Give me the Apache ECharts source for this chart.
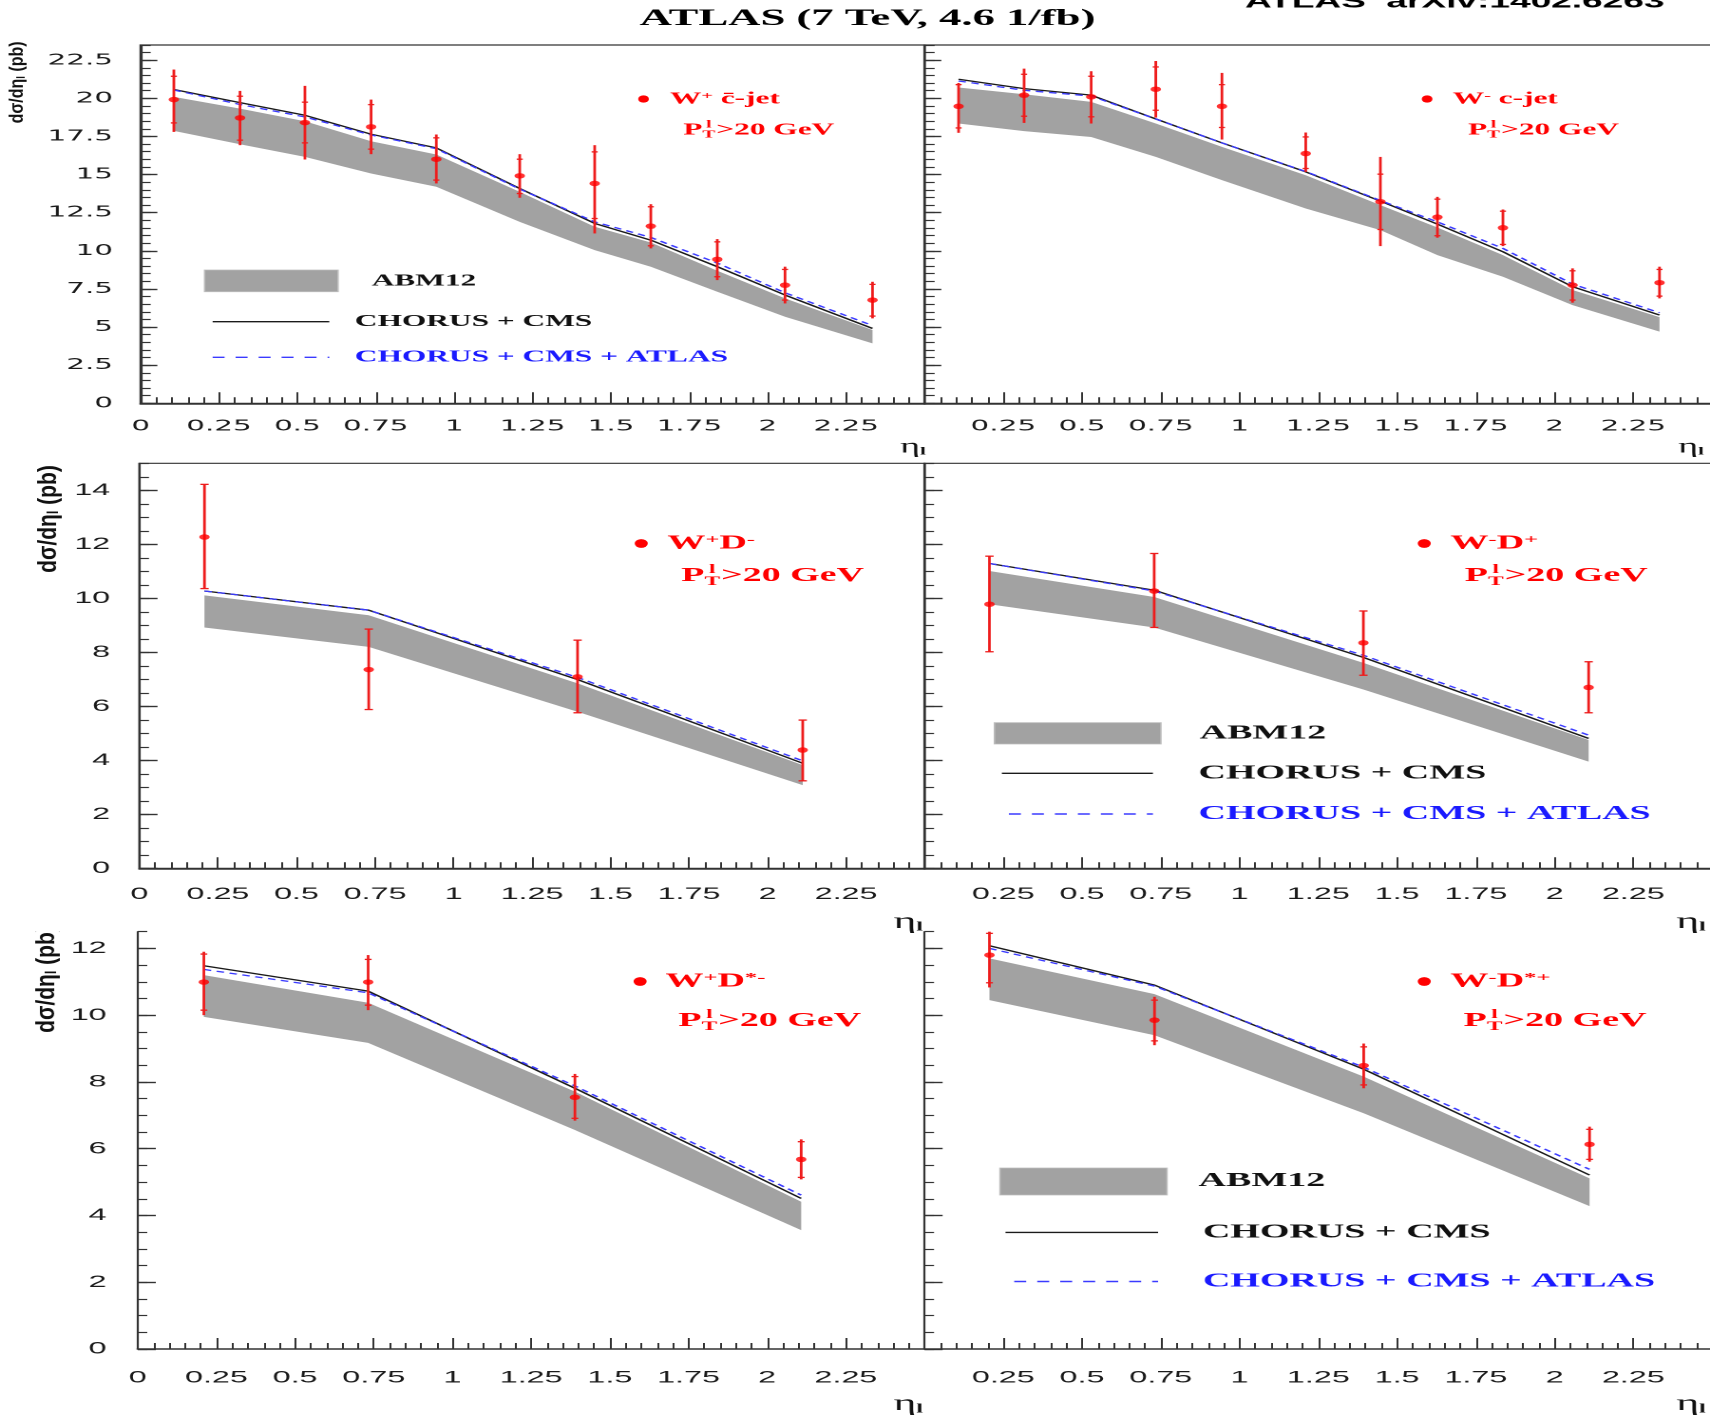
<!DOCTYPE html>
<html><head><meta charset="utf-8">
<script src="https://cdn.jsdelivr.net/npm/echarts@6/dist/echarts.min.js"></script>
<style>
html,body{margin:0;padding:0;background:#fff;overflow:hidden;}
#wrap{width:1710px;height:1416px;overflow:hidden;position:relative;background:#fff;}
#chart{width:900px;height:1416px;position:absolute;left:0;top:0;transform:scaleX(1.9);transform-origin:0 0;}
</style></head>
<body><div id="wrap"><div id="chart"></div></div>
<script>
// ================= DATA =================
// tick labels
const xTickLabels = [0, 0.25, 0.5, 0.75, 1, 1.25, 1.5, 1.75, 2, 2.25];
const yTicksCjet  = [0, 2.5, 5, 7.5, 10, 12.5, 15, 17.5, 20, 22.5];
const yTicksD     = [0, 2, 4, 6, 8, 10, 12, 14];
const yTicksDstar = [0, 2, 4, 6, 8, 10, 12];

// W+ c-jet
const wpcEta    = [0.106, 0.317, 0.524, 0.735, 0.943, 1.209, 1.448, 1.627, 1.839, 2.055, 2.334];
const wpcVal    = [19.92, 18.72, 18.41, 18.13, 16.01, 14.92, 14.42, 11.62, 9.44, 7.75, 6.77];
const wpcTotLo  = [17.80, 16.93, 15.99, 16.34, 14.42, 13.48, 11.14, 10.16, 8.08, 6.55, 5.57];
const wpcTotHi  = [21.89, 20.49, 20.82, 19.92, 17.63, 16.34, 16.93, 13.06, 10.77, 8.96, 7.97];
const wpcStatLo = [18.39, 17.26, 17.08, 16.67, 14.64, 13.76, 12.12, 10.33, 8.30, 6.77, 5.72];
const wpcStatHi = [21.45, 20.14, 19.75, 19.59, 17.41, 16.01, 16.49, 12.89, 10.59, 8.78, 7.80];
const wpcChorusCms      = [20.58, 19.72, 18.89, 17.65, 16.75, 14.09, 11.80, 10.70, 8.96, 7.10, 4.91];
const wpcChorusCmsAtlas = [20.55, 19.60, 18.78, 17.60, 16.70, 14.05, 11.90, 10.88, 9.20, 7.25, 5.10];
const wpcAbmHi  = [20.10, 19.33, 18.50, 17.19, 16.32, 13.87, 11.58, 10.55, 8.69, 6.88, 4.81];
const wpcAbmLo  = [17.87, 16.99, 16.16, 15.07, 14.20, 11.90, 10.05, 8.96, 7.32, 5.68, 3.93];

// W- c-jet
const wmcEta    = [0.108, 0.316, 0.529, 0.734, 0.944, 1.210, 1.447, 1.628, 1.836, 2.057, 2.333];
const wmcVal    = [19.48, 20.21, 20.10, 20.60, 19.48, 16.38, 13.22, 12.21, 11.51, 7.75, 7.91];
const wmcTotLo  = [17.74, 18.39, 18.35, 18.74, 17.30, 15.18, 10.31, 10.86, 10.31, 6.60, 6.88];
const wmcTotHi  = [21.01, 21.95, 21.78, 22.45, 21.67, 17.76, 16.16, 13.54, 12.71, 8.85, 8.96];
const wmcStatLo = [18.06, 18.83, 18.79, 19.22, 18.09, 15.40, 11.40, 10.99, 10.42, 6.77, 7.03];
const wmcStatHi = [20.90, 21.58, 21.45, 22.06, 20.90, 17.47, 15.03, 13.39, 12.60, 8.69, 8.78];
const wmcChorusCms      = [21.25, 20.64, 20.21, 18.65, 17.08, 15.18, 13.26, 11.75, 9.94, 7.65, 5.79];
const wmcChorusCmsAtlas = [21.14, 20.53, 20.15, 18.65, 17.08, 15.20, 13.30, 11.90, 10.16, 7.82, 5.94];
const wmcAbmHi  = [20.71, 20.27, 19.77, 18.35, 16.82, 14.96, 13.00, 11.53, 9.72, 7.43, 5.65];
const wmcAbmLo  = [18.35, 17.85, 17.47, 16.16, 14.64, 12.78, 11.36, 9.72, 8.30, 6.44, 4.70];

// W+ D-
const wpdEta   = [0.207, 0.730, 1.395, 2.112];
const wpdVal   = [12.27, 7.36, 7.09, 4.38];
const wpdTotLo = [10.36, 5.88, 5.76, 3.24];
const wpdTotHi = [14.22, 8.86, 8.45, 5.49];
const wpdChorusCms      = [10.27, 9.56, 6.99, 3.89];
const wpdChorusCmsAtlas = [10.27, 9.56, 7.07, 3.98];
const wpdAbmHi = [10.11, 9.37, 6.85, 3.82];
const wpdAbmLo = [8.92, 8.20, 5.80, 3.08];

// W- D+
const wmdEta   = [0.206, 0.729, 1.393, 2.108];
const wmdVal   = [9.78, 10.27, 8.35, 6.70];
const wmdTotLo = [8.02, 8.92, 7.15, 5.76];
const wmdTotHi = [11.56, 11.66, 9.53, 7.65];
const wmdChorusCms      = [11.29, 10.30, 7.81, 4.81];
const wmdChorusCmsAtlas = [11.29, 10.27, 7.89, 4.93];
const wmdAbmHi = [11.01, 10.05, 7.61, 4.75];
const wmdAbmLo = [9.78, 8.92, 6.62, 3.95];

// W+ D*-
const wpsEta    = [0.210, 0.732, 1.389, 2.108];
const wpsVal    = [10.99, 10.99, 7.54, 5.68];
const wpsTotLo  = [10.00, 10.15, 6.84, 5.08];
const wpsTotHi  = [11.90, 11.80, 8.24, 6.28];
const wpsStatLo = [10.15, 10.30, 6.91, 5.14];
const wpsStatHi = [11.83, 11.67, 8.16, 6.21];
const wpsChorusCms      = [11.48, 10.72, 7.81, 4.51];
const wpsChorusCmsAtlas = [11.37, 10.67, 7.88, 4.61];
const wpsAbmHi  = [11.20, 10.37, 7.71, 4.41];
const wpsAbmLo  = [9.95, 9.17, 6.56, 3.56];

// W- D*+
const wmsEta    = [0.206, 0.730, 1.394, 2.111];
const wmsVal    = [11.80, 9.85, 8.49, 6.13];
const wmsTotLo  = [10.83, 9.10, 7.81, 5.61];
const wmsTotHi  = [12.50, 10.55, 9.15, 6.66];
const wmsStatLo = [10.97, 9.23, 7.91, 5.68];
const wmsStatHi = [12.45, 10.45, 9.05, 6.58];
const wmsChorusCms      = [12.08, 10.90, 8.38, 5.21];
const wmsChorusCmsAtlas = [12.00, 10.87, 8.44, 5.38];
const wmsAbmHi  = [11.70, 10.63, 8.16, 5.11];
const wmsAbmLo  = [10.45, 9.40, 7.06, 4.28];

// ================= PANELS =================
const panels = [
  {eta: wpcEta, val: wpcVal, lo: wpcTotLo, hi: wpcTotHi, sLo: wpcStatLo, sHi: wpcStatHi, cc: wpcChorusCms, cca: wpcChorusCmsAtlas, aHi: wpcAbmHi, aLo: wpcAbmLo, cap: 1.6},
  {eta: wmcEta, val: wmcVal, lo: wmcTotLo, hi: wmcTotHi, sLo: wmcStatLo, sHi: wmcStatHi, cc: wmcChorusCms, cca: wmcChorusCmsAtlas, aHi: wmcAbmHi, aLo: wmcAbmLo, cap: 1.6},
  {eta: wpdEta, val: wpdVal, lo: wpdTotLo, hi: wpdTotHi, sLo: wpdTotLo, sHi: wpdTotHi, cc: wpdChorusCms, cca: wpdChorusCmsAtlas, aHi: wpdAbmHi, aLo: wpdAbmLo, cap: 2.2},
  {eta: wmdEta, val: wmdVal, lo: wmdTotLo, hi: wmdTotHi, sLo: wmdTotLo, sHi: wmdTotHi, cc: wmdChorusCms, cca: wmdChorusCmsAtlas, aHi: wmdAbmHi, aLo: wmdAbmLo, cap: 2.2},
  {eta: wpsEta, val: wpsVal, lo: wpsTotLo, hi: wpsTotHi, sLo: wpsStatLo, sHi: wpsStatHi, cc: wpsChorusCms, cca: wpsChorusCmsAtlas, aHi: wpsAbmHi, aLo: wpsAbmLo, cap: 1.8},
  {eta: wmsEta, val: wmsVal, lo: wmsTotLo, hi: wmsTotHi, sLo: wmsStatLo, sHi: wmsStatHi, cc: wmsChorusCms, cca: wmsChorusCmsAtlas, aHi: wmsAbmHi, aLo: wmsAbmLo, cap: 1.8}
];

// layout (coordinates before the horizontal stretch of 1.9)
const SERIF = '"Liberation Serif", "Times New Roman", serif';
const SANS = '"Liberation Sans", Arial, sans-serif';
const RED = '#ff0000', BLUE = '#1a1aff', AX = '#333333';
const DIV = 486.6, RIGHT_W = 414.5;
const rows = [
  {top: 45, bottom: 403.3, ymax: 23.5, minor: 0.5, ticks: yTicksCjet, left: 74.0, font: '"DejaVu Sans", sans-serif', fs: 15.5, xm: 15, ym: 14.5, maj: 8.8, min: 5.3},
  {top: 463.3, bottom: 868.3, ymax: 15, minor: 0.5, ticks: yTicksD, left: 73.4, font: SANS, fs: 17, xm: 17.5, ym: 15.4, maj: 9.5, min: 5},
  {top: 931.7, bottom: 1349, ymax: 12.5, minor: 0.5, ticks: yTicksDstar, left: 72.5, font: SANS, fs: 17, xm: 20.5, ym: 16.4, maj: 9.5, min: 5}
];

const grids = [], xAxes = [], yAxes = [], series = [];
panels.forEach((p, i) => {
  const r = rows[Math.floor(i / 2)], c = i % 2;
  const left = c === 0 ? r.left : DIV;
  const width = c === 0 ? DIV - r.left : RIGHT_W;
  grids.push({left: left, top: r.top, width: width, height: r.bottom - r.top, show: i < 4,
    borderColor: AX, borderWidth: 1.2, backgroundColor: 'transparent', containLabel: false, outerBoundsMode: 'none'});
  xAxes.push({type: 'value', gridIndex: i, min: 0, max: 2.5, interval: 0.25, position: 'bottom',
    axisLine: {show: true, onZero: false, lineStyle: {color: AX, width: 1.5}},
    axisTick: {show: true, inside: true, length: 11, lineStyle: {color: AX, width: 1}},
    minorTick: {show: true, splitNumber: 5, length: 6, lineStyle: {color: AX, width: 1}},
    splitLine: {show: false}, minorSplitLine: {show: false},
    axisLabel: {show: true, customValues: c === 0 ? xTickLabels : xTickLabels.slice(1), margin: r.xm,
      fontFamily: r.font, fontSize: r.fs, color: '#1a1a1a'}
  });
  yAxes.push({type: 'value', gridIndex: i, min: 0, max: r.ymax, position: 'left', offset: 0,
    axisLine: {show: true, onZero: false, lineStyle: {color: AX, width: 1.1}},
    axisTick: {show: true, inside: true, length: r.maj, customValues: r.ticks, lineStyle: {color: AX, width: 1.4}},
    splitLine: {show: false},
    axisLabel: {show: c === 0, customValues: r.ticks, margin: r.ym, fontFamily: r.font, fontSize: r.fs, color: '#1a1a1a'}
  });
  yAxes.push({type: 'value', gridIndex: i, min: 0, max: r.ymax, interval: r.minor, position: 'left', offset: 0,
    axisLine: {show: false}, axisLabel: {show: false}, splitLine: {show: false},
    axisTick: {show: true, inside: true, length: r.min, lineStyle: {color: AX, width: 1.2}}
  });

  // ABM12 band
  series.push({type: 'custom', name: 'ABM12', xAxisIndex: i, yAxisIndex: 2 * i, z: 1, silent: true, clip: true,
    data: p.eta.map((x, k) => [x, p.aLo[k], p.aHi[k]]),
    renderItem: function (params, api) {
      if (params.dataIndex !== 0) return null;
      const pts = [];
      for (let k = 0; k < p.eta.length; k++) pts.push(api.coord([p.eta[k], p.aHi[k]]));
      for (let k = p.eta.length - 1; k >= 0; k--) pts.push(api.coord([p.eta[k], p.aLo[k]]));
      return {type: 'polygon', shape: {points: pts}, style: {fill: '#a2a2a2', stroke: null}};
    }
  });
  // CHORUS + CMS
  series.push({type: 'line', name: 'CHORUS + CMS', xAxisIndex: i, yAxisIndex: 2 * i, z: 3, silent: true,
    data: p.eta.map((x, k) => [x, p.cc[k]]), symbol: 'none', showSymbol: false,
    lineStyle: {color: '#1a1a1a', width: 1.3}});
  // CHORUS + CMS + ATLAS
  series.push({type: 'line', name: 'CHORUS + CMS + ATLAS', xAxisIndex: i, yAxisIndex: 2 * i, z: 4, silent: true,
    data: p.eta.map((x, k) => [x, p.cca[k]]), symbol: 'none', showSymbol: false,
    lineStyle: {color: '#3a3aff', width: 1.3, type: [4, 3]}});
  // error bars
  series.push({type: 'custom', name: 'errors', xAxisIndex: i, yAxisIndex: 2 * i, z: 5, silent: true,
    data: p.eta.map((x, k) => [x, p.lo[k], p.hi[k], p.sLo[k], p.sHi[k]]),
    renderItem: function (params, api) {
      const x = api.value(0);
      const a = api.coord([x, api.value(1)]), b = api.coord([x, api.value(2)]);
      const ch = [{type: 'line', shape: {x1: a[0], y1: a[1], x2: b[0], y2: b[1]}, style: {stroke: '#ee1c1c', lineWidth: 1.4}}];
      [api.value(3), api.value(4)].forEach(v => {
        const q = api.coord([x, v]);
        ch.push({type: 'line', shape: {x1: q[0] - p.cap, y1: q[1], x2: q[0] + p.cap, y2: q[1]}, style: {stroke: '#ee1c1c', lineWidth: 1.3}});
      });
      return {type: 'group', children: ch};
    }
  });
  // data points
  series.push({type: 'scatter', name: 'data', xAxisIndex: i, yAxisIndex: 2 * i, z: 6, silent: true,
    data: p.eta.map((x, k) => [x, p.val[k]]), symbol: 'circle', symbolSize: 5.5, itemStyle: {color: RED}});
});

// ================= TEXT / LEGENDS =================
const mctx = document.createElement('canvas').getContext('2d');
function tw(str, font) { mctx.font = font; return mctx.measureText(str).width; }
function txt(text, x, y, font, fill, align) {
  return {type: 'text', x: x, y: y, z: 100, silent: true,
    style: {text: text, font: font, fill: fill, align: align || 'left', verticalAlign: 'middle'}};
}
function richTxt(text, x, y, fs, fill, family, weight) {
  return {type: 'text', x: x, y: y, z: 100, silent: true,
    style: {text: text, align: 'left', verticalAlign: 'middle',
      rich: {
        m: {fontSize: fs, fontFamily: family, fontWeight: weight, fill: fill, lineHeight: fs},
        s: {fontSize: fs * 0.65, fontFamily: family, fontWeight: weight, fill: fill, lineHeight: fs * 0.55, verticalAlign: 'top'}
      }}};
}
const graphics = [];
// titles
graphics.push(txt('ATLAS (7 TeV, 4.6 1/fb)', 456.6, 19, 'bold 23.5px ' + SERIF, '#000', 'center'));
graphics.push(txt('ATLAS  arXiv:1402.6263', 655.3, 2, 'bold 19.5px ' + SANS, '#000', 'left'));

// y-axis titles (rotated)
const yTitles = [
  {x: 9.3, y: 82.4, fs: 16, sy: 0.62},
  {x: 25.5, y: 519, fs: 21, sy: 0.66},
  {x: 24.8, y: 979, fs: 21, sy: 0.66}
];
yTitles.forEach(t => {
  graphics.push({type: 'text', x: t.x, y: t.y, rotation: Math.PI / 2, scaleY: t.sy, z: 100, silent: true,
    style: {text: '{a|dσ/dη}{s|l}{a| (pb)}', align: 'center', verticalAlign: 'middle',
      rich: {
        a: {fontSize: t.fs, fontFamily: SANS, fontWeight: 'bold', fill: '#111', lineHeight: t.fs},
        s: {fontSize: t.fs * 0.6, fontFamily: SANS, fontWeight: 'bold', fill: '#111', lineHeight: t.fs * 0.4, verticalAlign: 'bottom'}
      }}});
});
// the third title is cut by the panel edge in the original
graphics.push({type: 'rect', z: 101, silent: true, shape: {x: 8, y: 903, width: 34, height: 28.7}, style: {fill: '#ffffff'}});

// eta_l axis titles
const etaTitles = [
  [480.5, 447, 20], [890, 447, 20],
  [478, 922, 23], [890, 922, 23],
  [478, 1404, 23], [890, 1404, 23]
];
etaTitles.forEach(e => {
  graphics.push({type: 'text', x: e[0], y: e[1], z: 100, silent: true,
    style: {text: '{e|η}{s|l}', align: 'center', verticalAlign: 'middle',
      rich: {
        e: {fontSize: e[2], fontFamily: SERIF, fill: '#111', lineHeight: e[2]},
        s: {fontSize: e[2] * 0.55, fontFamily: SERIF, fontWeight: 'bold', fill: '#111', lineHeight: e[2] * 0.35, verticalAlign: 'bottom'}
      }}});
});

// panel labels
const panelTitles = [
  {dot: [338.7, 99], t: [352.6, 99], text: '{m|W}{s|+}{m| c̄-jet}', pt: [359.6, 130], fs: 16.5},
  {dot: [751.1, 99], t: [764.6, 99], text: '{m|W}{s|-}{m| c-jet}', pt: [772.6, 130], fs: 16.5},
  {dot: [337.5, 543.5], t: [351.2, 543.5], text: '{m|W}{s|+}{m|D}{s|-}', pt: [358.5, 576], fs: 20},
  {dot: [749.6, 543.5], t: [763.4, 543.5], text: '{m|W}{s|-}{m|D}{s|+}', pt: [770.9, 576], fs: 20},
  {dot: [336.9, 981.5], t: [350.2, 981.5], text: '{m|W}{s|+}{m|D}{s|*-}', pt: [357, 1021], fs: 20},
  {dot: [749.6, 981.5], t: [763.4, 981.5], text: '{m|W}{s|-}{m|D}{s|*+}', pt: [770.3, 1021], fs: 20}
];
panelTitles.forEach(pl => {
  const fs = pl.fs;
  graphics.push({type: 'circle', x: pl.dot[0], y: pl.dot[1], scaleX: 0.78, z: 100, silent: true,
    shape: {cx: 0, cy: 0, r: fs * 0.22}, style: {fill: RED}});
  graphics.push(richTxt(pl.text, pl.t[0], pl.t[1], fs, RED, SERIF, 'bold'));
  const big = 'bold ' + fs + 'px ' + SERIF;
  const small = 'bold ' + (fs * 0.62).toFixed(1) + 'px ' + SERIF;
  const x = pl.pt[0], y = pl.pt[1];
  const wP = tw('P', big), wT = tw('T', small);
  graphics.push(txt('P', x, y, big, RED, 'left'));
  graphics.push(txt('l', x + wP + wT / 2, y - fs * 0.3, small, RED, 'center'));
  graphics.push(txt('T', x + wP, y + fs * 0.3, small, RED, 'left'));
  graphics.push(txt('>20 GeV', x + wP + wT + 0.5, y, big, RED, 'left'));
});

// legends
const legendBoxes = [
  {fs: 16.5, rect: [107.7, 270, 70.2, 21.7], abm: [195.6, 281], line: [111.9, 173.3, 321.7], lineText: [186.8, 321.7], dash: [111.9, 173.3, 357.3], dashText: [186.8, 357.3]},
  {fs: 20, rect: [523.4, 722.7, 87.6, 21.3], abm: [631.4, 733.3], line: [527.3, 606.8, 773.3], lineText: [630.8, 773.3], dash: [531, 606.8, 814], dashText: [630.8, 814]},
  {fs: 20, rect: [526.3, 1168, 87.9, 27], abm: [630.8, 1181], line: [529.2, 609.5, 1232.4], lineText: [633.1, 1232.4], dash: [533.8, 609.5, 1281.5], dashText: [633.1, 1281.5]}
];
legendBoxes.forEach(L => {
  const f = 'bold ' + L.fs + 'px ' + SERIF;
  graphics.push({type: 'rect', z: 100, silent: true, shape: {x: L.rect[0], y: L.rect[1], width: L.rect[2], height: L.rect[3]},
    style: {fill: '#a2a2a2', stroke: '#bdbdbd', lineWidth: 0.8}});
  graphics.push(txt('ABM12', L.abm[0], L.abm[1], f, '#111', 'left'));
  graphics.push({type: 'line', z: 100, silent: true, shape: {x1: L.line[0], y1: L.line[2], x2: L.line[1], y2: L.line[2]},
    style: {stroke: '#1a1a1a', lineWidth: 1.4}});
  graphics.push(txt('CHORUS + CMS', L.lineText[0], L.lineText[1], f, '#111', 'left'));
  graphics.push({type: 'line', z: 100, silent: true, shape: {x1: L.dash[0], y1: L.dash[2], x2: L.dash[1], y2: L.dash[2]},
    style: {stroke: '#3a3aff', lineWidth: 1.4, lineDash: [6.3, 5.8]}});
  graphics.push(txt('CHORUS + CMS + ATLAS', L.dashText[0], L.dashText[1], f, BLUE, 'left'));
});

const chart = echarts.init(document.getElementById('chart'), null, {renderer: 'canvas', devicePixelRatio: 2});
chart.setOption({
  animation: false,
  backgroundColor: '#ffffff',
  grid: grids,
  xAxis: xAxes,
  yAxis: yAxes,
  series: series,
  graphic: {elements: graphics}
});
</script>
</body></html>
